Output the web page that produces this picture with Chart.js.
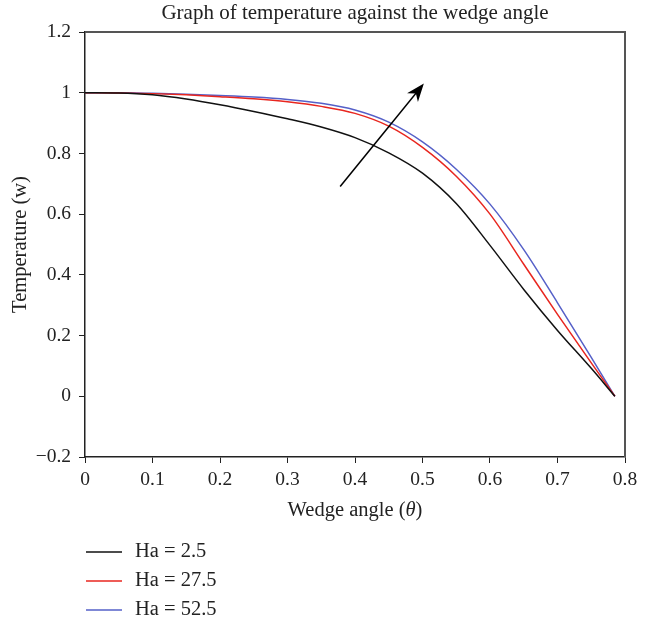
<!DOCTYPE html>
<html>
<head>
<meta charset="utf-8">
<script src="https://cdn.jsdelivr.net/npm/chart.js@4/dist/chart.umd.min.js"></script>
<style>
    body { margin: 0; background: #ffffff; }
    #wrap { width: 650px; height: 620px; }
</style>
</head>
<body>
<div id="wrap"><canvas id="chartSuhu" width="650" height="620"></canvas></div>
<script>
// wedge angle theta, the last point is pi/4
const sudut = [0, 0.05, 0.1, 0.15, 0.2, 0.25, 0.3, 0.35, 0.4, 0.45, 0.5, 0.55, 0.6, 0.65, 0.7, 0.75, 0.785];

const suhuHa1 = [1, 0.999, 0.993, 0.979, 0.960, 0.938, 0.914, 0.887, 0.852, 0.802, 0.735, 0.635, 0.497, 0.352, 0.217, 0.092, 0];
const suhuHa2 = [1, 0.999, 0.997, 0.993, 0.987, 0.980, 0.970, 0.955, 0.932, 0.890, 0.820, 0.725, 0.600, 0.435, 0.270, 0.110, 0];
const suhuHa3 = [1, 1.000, 0.998, 0.995, 0.991, 0.986, 0.978, 0.965, 0.943, 0.903, 0.838, 0.748, 0.633, 0.483, 0.308, 0.128, 0];

const labelHa = ['Ha = 2.5', 'Ha = 27.5', 'Ha = 52.5'];
const warnaHa = ['#111111', '#e8261f', '#5560c8'];

const xTicks = [0, 0.1, 0.2, 0.3, 0.4, 0.5, 0.6, 0.7, 0.8];
const yTicks = [-0.2, 0, 0.2, 0.4, 0.6, 0.8, 1, 1.2];

const judul = 'Graph of temperature against the wedge angle';

// arrow (Ha increasing), in data units
const panahDari = [0.378, 0.691];
const panahKe = [0.502, 1.03];

const fontSerif = "'Liberation Serif', 'DejaVu Serif', serif";
const warnaTeks = '#222222';

function formatAngka(value) {
    let v = Math.round(value * 10) / 10;
    return v < 0 ? '\u2212' + Math.abs(v) : String(v);
}

function buatDataset(nilai, i) {
    return {
        label: labelHa[i],
        data: sudut.map((x, k) => ({ x: x, y: nilai[k] })),
        borderColor: warnaHa[i],
        borderWidth: 1.5,
        pointRadius: 0,
        fill: false,
        cubicInterpolationMode: 'monotone'
    };
}

const pluginTambahan = {
    id: 'tambahan',
    afterDraw: function (chart) {
        let ctx = chart.ctx;
        let area = chart.chartArea;
        let sx = chart.scales.x;
        let sy = chart.scales.y;

        ctx.save();

        /* title, centred over the plot box */
        ctx.fillStyle = warnaTeks;
        ctx.font = '21px ' + fontSerif;
        ctx.textAlign = 'center';
        ctx.textBaseline = 'middle';
        ctx.fillText(judul, (area.left + area.right) / 2, area.top - 19);

        /* top and right frame */
        ctx.strokeStyle = '#555555';
        ctx.lineWidth = 2;
        ctx.beginPath();
        ctx.moveTo(area.left, area.top);
        ctx.lineTo(area.right, area.top);
        ctx.lineTo(area.right, area.bottom);
        ctx.stroke();

        /* arrow */
        let x1 = sx.getPixelForValue(panahDari[0]), y1 = sy.getPixelForValue(panahDari[1]);
        let x2 = sx.getPixelForValue(panahKe[0]), y2 = sy.getPixelForValue(panahKe[1]);
        let ang = Math.atan2(y2 - y1, x2 - x1);
        let headLen = 18, headW = 7;
        ctx.strokeStyle = '#000000';
        ctx.fillStyle = '#000000';
        ctx.lineWidth = 1.5;
        ctx.beginPath();
        ctx.moveTo(x1, y1);
        ctx.lineTo(x2 - Math.cos(ang) * 8, y2 - Math.sin(ang) * 8);
        ctx.stroke();
        ctx.translate(x2, y2);
        ctx.rotate(ang);
        ctx.beginPath();
        ctx.moveTo(0, 0);
        ctx.lineTo(-headLen, -headW);
        ctx.lineTo(-headLen * 0.7, 0);
        ctx.lineTo(-headLen, headW);
        ctx.closePath();
        ctx.fill();
        ctx.setTransform(1, 0, 0, 1, 0, 0);

        /* x axis title with italic theta */
        let bagian = [['Wedge angle (', 'normal'], ['\u03b8', 'italic'], [')', 'normal']];
        let total = 0;
        bagian.forEach(function (b) {
            ctx.font = b[1] + ' 20.5px ' + fontSerif;
            total += ctx.measureText(b[0]).width;
        });
        let xPos = (area.left + area.right) / 2 - total / 2;
        let yPos = area.bottom + 54;
        ctx.fillStyle = warnaTeks;
        ctx.textBaseline = 'middle';
        ctx.textAlign = 'left';
        bagian.forEach(function (b) {
            ctx.font = b[1] + ' 20.5px ' + fontSerif;
            ctx.fillText(b[0], xPos, yPos);
            xPos += ctx.measureText(b[0]).width;
        });

        /* legend below the chart */
        chart.data.datasets.forEach(function (ds, i) {
            let yy = area.bottom + 95 + i * 29;
            ctx.strokeStyle = ds.borderColor;
            ctx.lineWidth = 1.5;
            ctx.beginPath();
            ctx.moveTo(86, yy);
            ctx.lineTo(122, yy);
            ctx.stroke();
            ctx.fillStyle = warnaTeks;
            ctx.font = '20.5px ' + fontSerif;
            ctx.fillText(ds.label, 135, yy);
        });

        ctx.restore();
    }
};

let chartSuhuCanvas = document.getElementById('chartSuhu');

let chartSuhu = new Chart(chartSuhuCanvas, {
    type: 'line',
    data: {
        datasets: [suhuHa1, suhuHa2, suhuHa3].map(buatDataset)
    },
    options: {
        responsive: false,
        animation: false,
        layout: {
            padding: { left: 0, right: 25, top: 32, bottom: 118 }
        },
        plugins: {
            legend: { display: false },
            tooltip: { enabled: false },
            title: { display: false }
        },
        scales: {
            x: {
                type: 'linear',
                min: 0,
                max: 0.8,
                afterBuildTicks: function (s) { s.ticks = xTicks.map(v => ({ value: v })); },
                afterFit: function (s) { s.height = 45; },
                ticks: {
                    color: warnaTeks,
                    font: { family: fontSerif, size: 19.5 },
                    padding: 5,
                    callback: formatAngka
                },
                grid: { drawOnChartArea: false, drawTicks: true, tickLength: 6, color: '#222222' },
                border: { color: '#222222', width: 1.5 }
            },
            y: {
                type: 'linear',
                min: -0.2,
                max: 1.2,
                afterBuildTicks: function (s) { s.ticks = yTicks.map(v => ({ value: v })); },
                afterFit: function (s) { s.width = 85; },
                ticks: {
                    color: warnaTeks,
                    font: { family: fontSerif, size: 19.5 },
                    padding: 8,
                    callback: formatAngka
                },
                title: {
                    display: true,
                    text: 'Temperature (w)',
                    color: warnaTeks,
                    font: { family: fontSerif, size: 20.5 },
                    padding: { top: 8, bottom: 2 }
                },
                grid: { drawOnChartArea: false, drawTicks: true, tickLength: 6, color: '#222222' },
                border: { color: '#222222', width: 1.5 }
            }
        }
    },
    plugins: [pluginTambahan]
});
</script>
</body>
</html>
